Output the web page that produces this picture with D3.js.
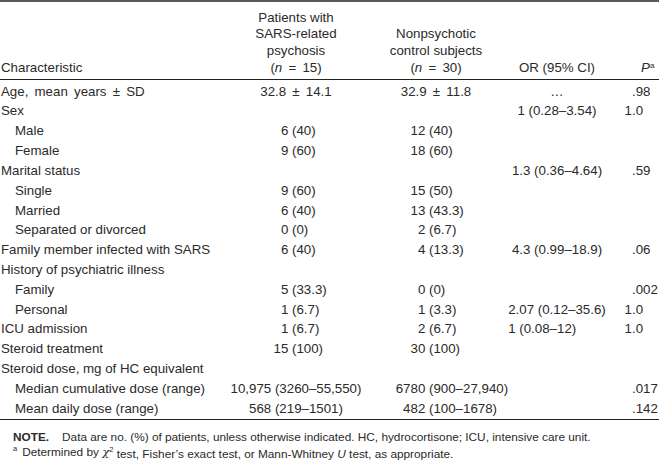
<!DOCTYPE html>
<html>
<head>
<meta charset="utf-8">
<script src="https://cdn.jsdelivr.net/npm/d3@7"></script>
<style>
  html, body { margin: 0; padding: 0; background: #fff; }
  svg { display: block; }
  text { font-family: "Liberation Sans", Arial, Helvetica, sans-serif; fill: #2a2a2a; }
</style>
</head>
<body>
<div id="chart"></div>
<script>
// ---------- data ----------
const characteristics = [
  "Age, mean years \u00b1 SD", "Sex", "Male", "Female", "Marital status",
  "Single", "Married", "Separated or divorced", "Family member infected with SARS",
  "History of psychiatric illness", "Family", "Personal", "ICU admission",
  "Steroid treatment", "Steroid dose, mg of HC equivalent",
  "Median cumulative dose (range)", "Mean daily dose (range)"
];
const indentLevel = [0,0,1,1,0,1,1,1,0,0,1,1,0,0,0,1,1];
const psychosisPatients = [
  "32.8 \u00b1 14.1", "", "6 (40)", "9 (60)", "", "9 (60)", "6 (40)", "0 (0)", "6 (40)",
  "", "5 (33.3)", "1 (6.7)", "1 (6.7)", "15 (100)", "",
  "10,975 (3260\u201355,550)", "568 (219\u20131501)"
];
const controlSubjects = [
  "32.9 \u00b1 11.8", "", "12 (40)", "18 (60)", "", "15 (50)", "13 (43.3)", "2 (6.7)", "4 (13.3)",
  "", "0 (0)", "1 (3.3)", "2 (6.7)", "30 (100)", "",
  "6780 (900\u201327,940)", "482 (100\u20131678)"
];
const oddsRatios = [
  "\u2026", "1 (0.28\u20133.54)", "", "", "1.3 (0.36\u20134.64)", "", "", "",
  "4.3 (0.99\u201318.9)", "", "", "2.07 (0.12\u201335.6)", "1 (0.08\u201312)", "", "", "", ""
];
const pValues = [
  ".98", "1.0", "", "", ".59", "", "", "", ".06", "", ".002", "1.0", "1.0", "", "", ".017", ".142"
];
const headerPsychosis = ["Patients with", "SARS-related", "psychosis"];
const headerControls = ["Nonpsychotic", "control subjects"];
const nPsychosis = 15, nControls = 30;
const noteText = "Data are no. (%) of patients, unless otherwise indicated. HC, hydrocortisone; ICU, intensive care unit.";

// ---------- layout ----------
const W = 659, H = 462;
const FS = 13.3, FN = 11.8;
const svg = d3.select("#chart").append("svg").attr("width", W).attr("height", H);

const y = d3.scalePoint().domain(d3.range(characteristics.length)).range([91, 408]);
const yHead = d3.scalePoint().domain([0,1,2,3]).range([17, 67]);

const col = {
  label: 1, indent: 15,
  c1Center: 296, c1Paren: 292,
  c2Center: 436, c2Paren: 429,
  orCenter: 557, pDot: 632
};

const g = svg.append("g");

g.append("line").attr("x1", 0).attr("x2", W).attr("y1", 1).attr("y2", 1)
  .attr("stroke", "#222").attr("stroke-width", 1.6);
g.append("line").attr("x1", 0).attr("x2", W).attr("y1", 79.5).attr("y2", 79.5)
  .attr("stroke", "#222").attr("stroke-width", 1);
g.append("line").attr("x1", 0).attr("x2", W).attr("y1", 419.5).attr("y2", 419.5)
  .attr("stroke", "#222").attr("stroke-width", 1);

function txt(parent, x, yy, s, anchor, size) {
  const t = parent.append("text").attr("x", x).attr("y", yy).attr("dy", "0.35em")
    .attr("text-anchor", anchor || "start").style("font-size", (size || FS) + "px").text(s);
  if (/[\u00b1=]/.test(s)) t.style("word-spacing", "2.5px");
  return t;
}

// header
txt(g, col.label, yHead(3), "Characteristic");
headerPsychosis.forEach((s, i) => txt(g, col.c1Center, yHead(i), s, "middle"));
headerControls.forEach((s, i) => txt(g, col.c2Center, yHead(i + 1), s, "middle"));
function nLabel(x, n) {
  const t = g.append("text").attr("x", x).attr("y", yHead(3)).attr("dy", "0.35em")
    .attr("text-anchor", "middle").style("font-size", FS + "px").style("word-spacing", "2.5px");
  t.append("tspan").text("(");
  t.append("tspan").style("font-style", "italic").text("n");
  t.append("tspan").text(" = " + n + ")");
}
nLabel(col.c1Center, nPsychosis);
nLabel(col.c2Center, nControls);
txt(g, col.orCenter, yHead(3), "OR (95% CI)", "middle");
{
  const t = g.append("text").attr("x", col.pDot + 9).attr("y", yHead(3)).attr("dy", "0.35em")
    .attr("text-anchor", "start").style("font-size", FS + "px");
  t.append("tspan").style("font-style", "italic").text("P");
  t.append("tspan").attr("dy", "-0.45em").style("font-size", "8px").text("a");
}

function alignAt(sel, xAnchor, idx) {
  sel.each(function() {
    const off = idx > 0 ? this.getSubStringLength(0, idx) : 0;
    d3.select(this).attr("x", xAnchor - off);
  });
}

const orNodes = {};
characteristics.forEach((label, i) => {
  txt(g, indentLevel[i] ? col.indent : col.label, y(i), label);

  [[psychosisPatients, col.c1Center, col.c1Paren, false], [controlSubjects, col.c2Center, col.c2Paren, true]]
    .forEach(([arr, cx, px, parenAllRanges]) => {
      const s = arr[i];
      if (!s) return;
      const hasParen = s.indexOf(" (") > 0;
      const isRange = /\u2013/.test(s);
      if (hasParen && (!isRange || parenAllRanges)) {
        const t = txt(g, px, y(i), s, "start");
        alignAt(t, px, s.indexOf("("));
      } else {
        txt(g, cx, y(i), s, "middle");
      }
    });

  const o = oddsRatios[i];
  if (o) {
    const prev = orNodes[i - 1];
    if (prev && oddsRatios[i - 1] !== "\u2026") {
      const x0 = +prev.attr("x") - prev.node().getComputedTextLength() / 2;
      orNodes[i] = txt(g, x0, y(i), o, "start");
    } else {
      orNodes[i] = txt(g, col.orCenter, y(i), o, "middle");
    }
  }

  const p = pValues[i];
  if (p) {
    const t = txt(g, col.pDot, y(i), p, "start");
    alignAt(t, col.pDot, p.indexOf("."));
  }
});

// footnotes
{
  const t = g.append("text").attr("x", 13).attr("y", 437).attr("dy", "0.35em")
    .style("font-size", FN + "px");
  t.append("tspan").style("font-weight", "bold").text("NOTE.");
  t.append("tspan").attr("dx", 13).text(noteText);

  const f = g.append("text").attr("x", 13).attr("y", 454).attr("dy", "0.35em")
    .style("font-size", FN + "px");
  f.append("tspan").attr("dy", "-0.4em").style("font-size", "7.5px").text("a");
  f.append("tspan").attr("dy", "0.4em").attr("dx", 5).text("Determined by ");
  f.append("tspan").style("font-family", "'DejaVu Serif', serif").style("font-style", "italic").text("\u03c7");
  f.append("tspan").attr("dy", "-0.45em").style("font-size", "7.5px").text("2");
  f.append("tspan").attr("dy", "0.45em").text(" test, Fisher\u2019s exact test, or Mann-Whitney ");
  f.append("tspan").style("font-style", "italic").text("U");
  f.append("tspan").text(" test, as appropriate.");
}
</script>
</body>
</html>
